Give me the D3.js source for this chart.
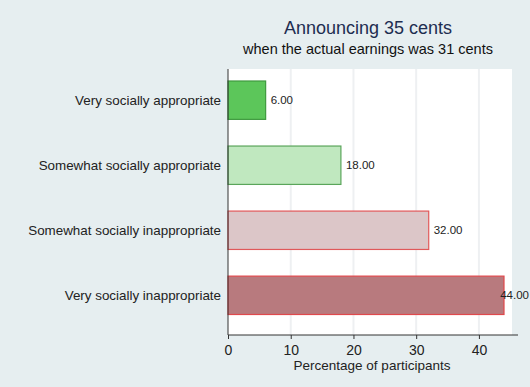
<!DOCTYPE html>
<html><head><meta charset="utf-8">
<script src="https://cdn.jsdelivr.net/npm/d3@7"></script>
<style>body{margin:0;background:#e6eef0;} svg{display:block;}</style>
</head><body>
<svg id="c" width="530" height="387"></svg>
<script>
const categories = ["Very socially appropriate","Somewhat socially appropriate","Somewhat socially inappropriate","Very socially inappropriate"];
const values = [6, 18, 32, 44];
const fills = ["#5cc65a","#c0e8bf","#dcc6c8","#b87a7e"];
const strokes = ["#3f9a3f","#5aa55a","#e0585a","#e0484c"];
const xTicks = [0,10,20,30,40];
const title = "Announcing 35 cents";
const subtitle = "when the actual earnings was 31 cents";
const xTitle = "Percentage of participants";

const FONT = "Liberation Sans, Arial, sans-serif";
const svg = d3.select("#c");
svg.append("rect").attr("width",530).attr("height",387).attr("fill","#e6eef0");
const L=228, R=512, T=69, B=335;
svg.append("rect").attr("x",L).attr("y",T).attr("width",R-L).attr("height",B-T).attr("fill","#ffffff");
const x = d3.scaleLinear().domain([0,44]).range([L, L+276]);
const y = d3.scaleBand().domain(categories).range([81, 314.5]).paddingInner(0.41).paddingOuter(0);

// gridlines
svg.selectAll("line.grid").data(xTicks.slice(1)).join("line")
  .attr("x1",d=>x(d)).attr("x2",d=>x(d)).attr("y1",T).attr("y2",B)
  .attr("stroke","#eef0f2").attr("stroke-width",2);

svg.selectAll("rect.bar").data(values).join("rect")
  .attr("x",x(0)).attr("y",(d,i)=>y(categories[i]))
  .attr("width",d=>x(d)-x(0)).attr("height",y.bandwidth())
  .attr("fill",(d,i)=>fills[i]).attr("stroke",(d,i)=>strokes[i]).attr("stroke-width",1.2);

svg.selectAll("text.val").data(values).join("text")
  .attr("y",(d,i)=>y(categories[i])+y.bandwidth()/2+4)
  .attr("font-family",FONT).attr("font-size",11.5).attr("fill","#222")
  .text(d=>d.toFixed(2))
  .attr("x",function(d){ const w=this.getComputedTextLength(); return Math.min(x(d)+5, 529-w); });

// y labels
svg.selectAll("text.cat").data(categories).join("text")
  .attr("x",221).attr("y",d=>y(d)+y.bandwidth()/2+4.5)
  .attr("text-anchor","end").attr("font-family",FONT)
  .attr("font-size",13.4).attr("fill","#222").text(d=>d);

// axes lines
svg.append("line").attr("x1",L).attr("x2",L).attr("y1",T).attr("y2",B).attr("stroke","#333").attr("stroke-width",1);
const xa = svg.append("g").attr("transform",`translate(0,${B})`)
  .call(d3.axisBottom(x).tickValues(xTicks).tickSize(4).tickPadding(6).tickFormat(d3.format("d")));
xa.select(".domain").attr("d",`M${L},0H518`).attr("stroke","#333");
xa.selectAll(".tick line").attr("stroke","#333");
xa.selectAll("text").attr("font-family",FONT).attr("font-size",14).attr("fill","#222");

svg.append("text").attr("x",372).attr("y",370).attr("text-anchor","middle")
  .attr("font-family",FONT).attr("font-size",13.5).attr("fill","#222").text(xTitle);
svg.append("text").attr("x",368).attr("y",34).attr("text-anchor","middle")
  .attr("font-family",FONT).attr("font-size",18).attr("fill","#1e2d50").text(title);
svg.append("text").attr("x",368).attr("y",54).attr("text-anchor","middle")
  .attr("font-family",FONT).attr("font-size",14.5).attr("fill","#111").text(subtitle);
</script>
</body></html>
